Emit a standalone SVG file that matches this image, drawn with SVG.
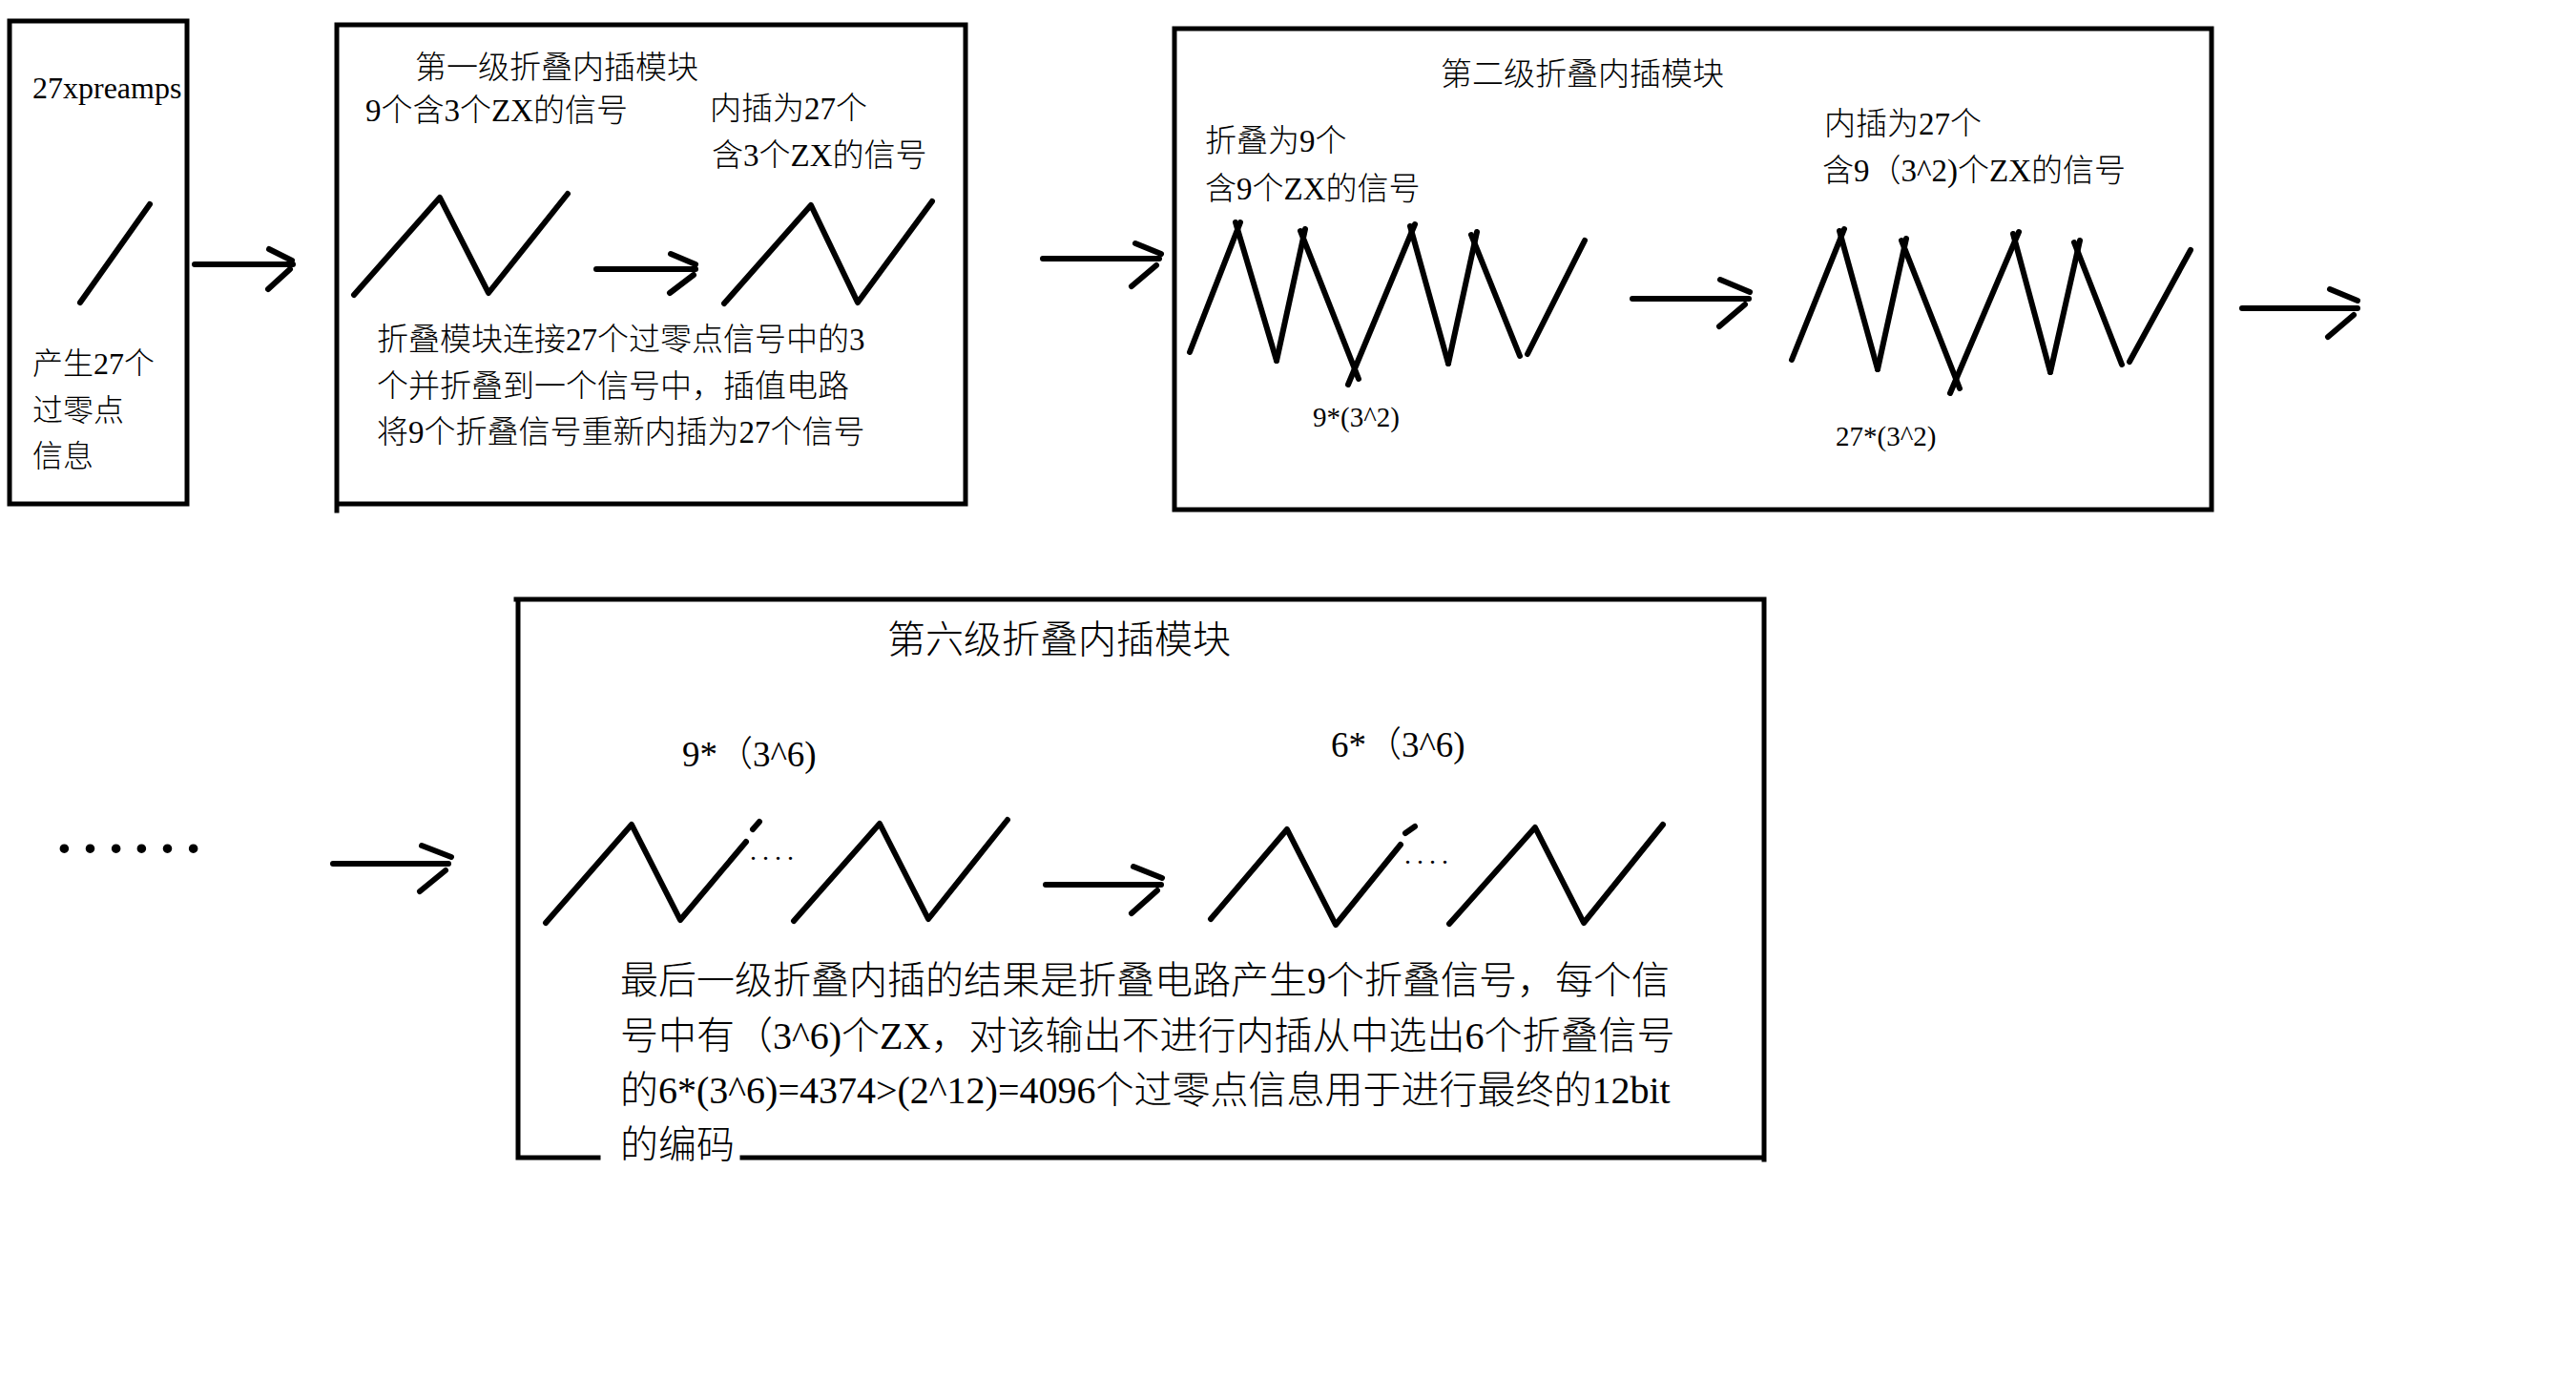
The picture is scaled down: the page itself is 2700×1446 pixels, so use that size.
<svg xmlns="http://www.w3.org/2000/svg" width="2700" height="1446" viewBox="0 0 2700 1446">
<style>
.box{fill:none;stroke:#000;stroke-width:5;stroke-linecap:square}
.ln{fill:none;stroke:#000;stroke-width:6;stroke-linecap:round;stroke-linejoin:round}
.t{font-family:"Liberation Serif","Noto Sans CJK SC",serif;fill:#000;font-weight:300}
.s32{font-size:32px}.s33{font-size:33px}.s29{font-size:29px}.s37{font-size:37px}.s40{font-size:40px}
</style>
<rect width="2700" height="1446" fill="#fff"/>

<g id="node-preamps">
<rect class="box" x="10" y="22" width="186" height="506"/>
<text class="t s32" x="34" y="103">27xpreamps</text>
<line class="ln" x1="157" y1="214" x2="84" y2="317"/>
<text class="t s32" x="34" y="392">产生27个</text>
<text class="t s32" x="34" y="441">过零点</text>
<text class="t s32" x="34" y="489">信息</text>
</g>

<g id="node-stage1">
<path class="box" d="M353,26 H1012 V528 H353 M353,26 V535"/>
<text class="t s33" x="435" y="82">第一级折叠内插模块</text>
<text class="t s33" x="383" y="127">9个含3个ZX的信号</text>
<text class="t s33" x="744" y="125">内插为27个</text>
<text class="t s33" x="746" y="174">含3个ZX的信号</text>
<polyline class="ln" points="371,309 461,207 512,307 595,203"/>
<g class="ln">
<line x1="625" y1="282" x2="729" y2="282"/>
<line x1="703" y1="266" x2="729" y2="277"/>
<line x1="702" y1="307" x2="727" y2="288"/>
</g>
<polyline class="ln" points="759,318 850,215 899,317 977,211"/>
<text class="t s33" x="395" y="367">折叠模块连接27个过零点信号中的3</text>
<text class="t s33" x="395" y="416">个并折叠到一个信号中，插值电路</text>
<text class="t s33" x="395" y="464">将9个折叠信号重新内插为27个信号</text>
</g>

<g id="node-stage2">
<rect class="box" x="1231" y="30" width="1087" height="504"/>
<text class="t s33" x="1510" y="89">第二级折叠内插模块</text>
<text class="t s33" x="1263" y="159">折叠为9个</text>
<text class="t s33" x="1263" y="209">含9个ZX的信号</text>
<g class="ln">
<line x1="1247" y1="369" x2="1300" y2="233"/>
<line x1="1295" y1="233" x2="1338" y2="378"/>
<line x1="1338" y1="378" x2="1368" y2="240"/>
<line x1="1363" y1="242" x2="1424" y2="397"/>
<line x1="1413" y1="403" x2="1483" y2="235"/>
<line x1="1478" y1="237" x2="1518" y2="381"/>
<line x1="1518" y1="381" x2="1548" y2="243"/>
<line x1="1542" y1="246" x2="1593" y2="373"/>
<line x1="1601" y1="371" x2="1661" y2="252"/>
</g>
<text class="t s29" x="1376" y="447">9*(3^2)</text>
<g class="ln">
<line x1="1711" y1="313" x2="1833" y2="313"/>
<line x1="1803" y1="293" x2="1834" y2="306"/>
<line x1="1802" y1="342" x2="1829" y2="319"/>
</g>
<text class="t s33" x="1912" y="141">内插为27个</text>
<text class="t s33" x="1910" y="190">含9（3^2)个ZX的信号</text>
<g class="ln">
<line x1="1878" y1="377" x2="1933" y2="240"/>
<line x1="1928" y1="242" x2="1968" y2="387"/>
<line x1="1968" y1="387" x2="1998" y2="250"/>
<line x1="1993" y1="252" x2="2054" y2="407"/>
<line x1="2044" y1="412" x2="2116" y2="243"/>
<line x1="2110" y1="245" x2="2149" y2="390"/>
<line x1="2149" y1="390" x2="2180" y2="252"/>
<line x1="2174" y1="254" x2="2224" y2="382"/>
<line x1="2232" y1="379" x2="2296" y2="262"/>
</g>
<text class="t s29" x="1924" y="467">27*(3^2)</text>
</g>

<g id="node-ellipsis">
<text class="t" x="54" y="893" style="font-size:81px">……</text>
</g>

<g id="node-stage6">
<path class="box" d="M541,628 H1849 V1215 M543,628 V1213 H627 M778,1213 H1849"/>
<text class="t s40" x="930" y="684">第六级折叠内插模块</text>
<text class="t s37" x="715" y="803">9*（3^6)</text>
<text class="t s37" x="1395" y="793">6*（3^6)</text>
<g class="ln">
<polyline points="572,967 662,864 713,964 782,882"/>
<line x1="789" y1="869" x2="796" y2="861"/>
<polyline points="832,965 922,863 973,963 1056,859"/>
<line x1="1096" y1="927" x2="1217" y2="927"/>
<line x1="1188" y1="908" x2="1218" y2="920"/>
<line x1="1186" y1="957" x2="1213" y2="933"/>
<polyline points="1269,963 1349,869 1400,969 1468,885"/>
<line x1="1473" y1="873" x2="1483" y2="866"/>
<polyline points="1519,968 1609,867 1660,967 1743,864"/>
</g>
<text class="t" x="786" y="901" style="font-size:28px;letter-spacing:6px">....</text>
<text class="t" x="1472" y="905" style="font-size:28px;letter-spacing:6px">....</text>
<text class="t s40" x="650" y="1041">最后一级折叠内插的结果是折叠电路产生9个折叠信号，每个信</text>
<text class="t s40" x="650" y="1099">号中有（3^6)个ZX，对该输出不进行内插从中选出6个折叠信号</text>
<text class="t s40" x="650" y="1156">的6*(3^6)=4374&gt;(2^12)=4096个过零点信息用于进行最终的12bit</text>
<text class="t s40" x="650" y="1213">的编码</text>
</g>

<g id="connectors" class="ln">
<line x1="204" y1="277" x2="307" y2="277"/>
<line x1="282" y1="261" x2="306" y2="273"/>
<line x1="281" y1="303" x2="304" y2="282"/>
<line x1="1093" y1="271" x2="1215" y2="271"/>
<line x1="1190" y1="255" x2="1217" y2="266"/>
<line x1="1186" y1="300" x2="1212" y2="278"/>
<line x1="2350" y1="323" x2="2471" y2="323"/>
<line x1="2442" y1="303" x2="2471" y2="315"/>
<line x1="2440" y1="353" x2="2467" y2="330"/>
<line x1="349" y1="905" x2="470" y2="905"/>
<line x1="442" y1="886" x2="473" y2="898"/>
<line x1="440" y1="934" x2="467" y2="912"/>
</g>
</svg>
